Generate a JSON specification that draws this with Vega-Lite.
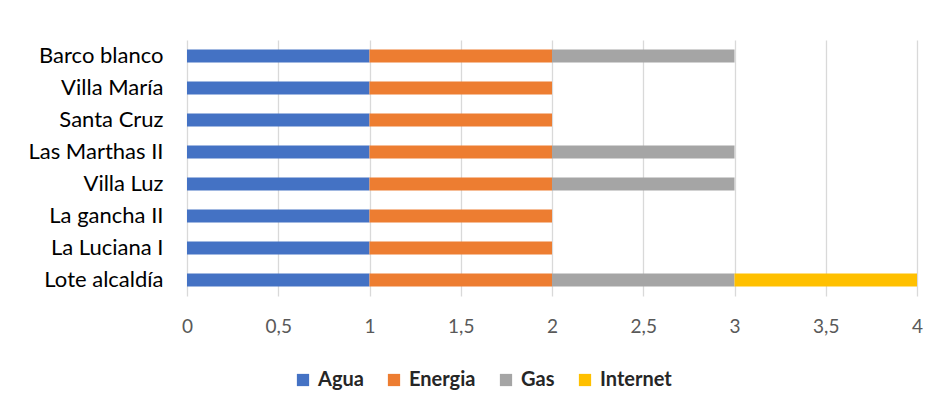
{
  "$schema": "https://vega.github.io/schema/vega-lite/v6.json",
  "autosize": {"type": "none"},
  "padding": {"left": 187, "top": 40, "right": 25, "bottom": 116},
  "width": 730,
  "height": 256,
  "background": "white",
  "data": {"values": [
    {"lugar": "Barco blanco", "servicio": "Agua", "valor": 1, "o": 1},
    {"lugar": "Barco blanco", "servicio": "Energia", "valor": 1, "o": 2},
    {"lugar": "Barco blanco", "servicio": "Gas", "valor": 1, "o": 3},
    {"lugar": "Villa María", "servicio": "Agua", "valor": 1, "o": 1},
    {"lugar": "Villa María", "servicio": "Energia", "valor": 1, "o": 2},
    {"lugar": "Santa Cruz", "servicio": "Agua", "valor": 1, "o": 1},
    {"lugar": "Santa Cruz", "servicio": "Energia", "valor": 1, "o": 2},
    {"lugar": "Las Marthas II", "servicio": "Agua", "valor": 1, "o": 1},
    {"lugar": "Las Marthas II", "servicio": "Energia", "valor": 1, "o": 2},
    {"lugar": "Las Marthas II", "servicio": "Gas", "valor": 1, "o": 3},
    {"lugar": "Villa Luz", "servicio": "Agua", "valor": 1, "o": 1},
    {"lugar": "Villa Luz", "servicio": "Energia", "valor": 1, "o": 2},
    {"lugar": "Villa Luz", "servicio": "Gas", "valor": 1, "o": 3},
    {"lugar": "La gancha II", "servicio": "Agua", "valor": 1, "o": 1},
    {"lugar": "La gancha II", "servicio": "Energia", "valor": 1, "o": 2},
    {"lugar": "La Luciana I", "servicio": "Agua", "valor": 1, "o": 1},
    {"lugar": "La Luciana I", "servicio": "Energia", "valor": 1, "o": 2},
    {"lugar": "Lote alcaldía", "servicio": "Agua", "valor": 1, "o": 1},
    {"lugar": "Lote alcaldía", "servicio": "Energia", "valor": 1, "o": 2},
    {"lugar": "Lote alcaldía", "servicio": "Gas", "valor": 1, "o": 3},
    {"lugar": "Lote alcaldía", "servicio": "Internet", "valor": 1, "o": 4}
  ]},
  "mark": {"type": "bar"},
  "encoding": {
    "y": {
      "field": "lugar", "type": "nominal",
      "sort": ["Barco blanco", "Villa María", "Santa Cruz", "Las Marthas II", "Villa Luz", "La gancha II", "La Luciana I", "Lote alcaldía"],
      "scale": {"paddingInner": 0.6, "paddingOuter": 0.3},
      "axis": {"title": null, "ticks": false, "domain": false, "labelPadding": 24, "labelFontSize": 22, "labelColor": "#000000", "labelFont": "Lato"}
    },
    "x": {
      "field": "valor", "type": "quantitative", "aggregate": "sum", "stack": "zero",
      "scale": {"domain": [0, 4], "nice": false},
      "axis": {"title": null, "values": [0, 0.5, 1, 1.5, 2, 2.5, 3, 3.5, 4], "format": ".1~f", "labelExpr": "replace(datum.label, '.', ',')", "ticks": false, "domain": false, "grid": true, "gridColor": "#d9d9d9", "gridWidth": 1.3, "labelPadding": 21, "labelFontSize": 19, "labelColor": "#595959", "labelFont": "Lato", "labelFlush": false}
    },
    "color": {
      "field": "servicio", "type": "nominal",
      "scale": {"domain": ["Agua", "Energia", "Gas", "Internet"], "range": ["#4472C4", "#ED7D31", "#A5A5A5", "#FFC000"]},
      "legend": {"title": null, "orient": "none", "direction": "horizontal", "legendX": 106, "legendY": 330, "symbolType": "square", "symbolSize": 150, "symbolStrokeWidth": 0, "labelFontSize": 20, "labelFontWeight": "bold", "labelFont": "Lato", "labelColor": "#262626", "columnPadding": 20, "labelOffset": 5}
    },
    "order": {"field": "o", "type": "quantitative"}
  },
  "config": {"view": {"stroke": null}}
}
